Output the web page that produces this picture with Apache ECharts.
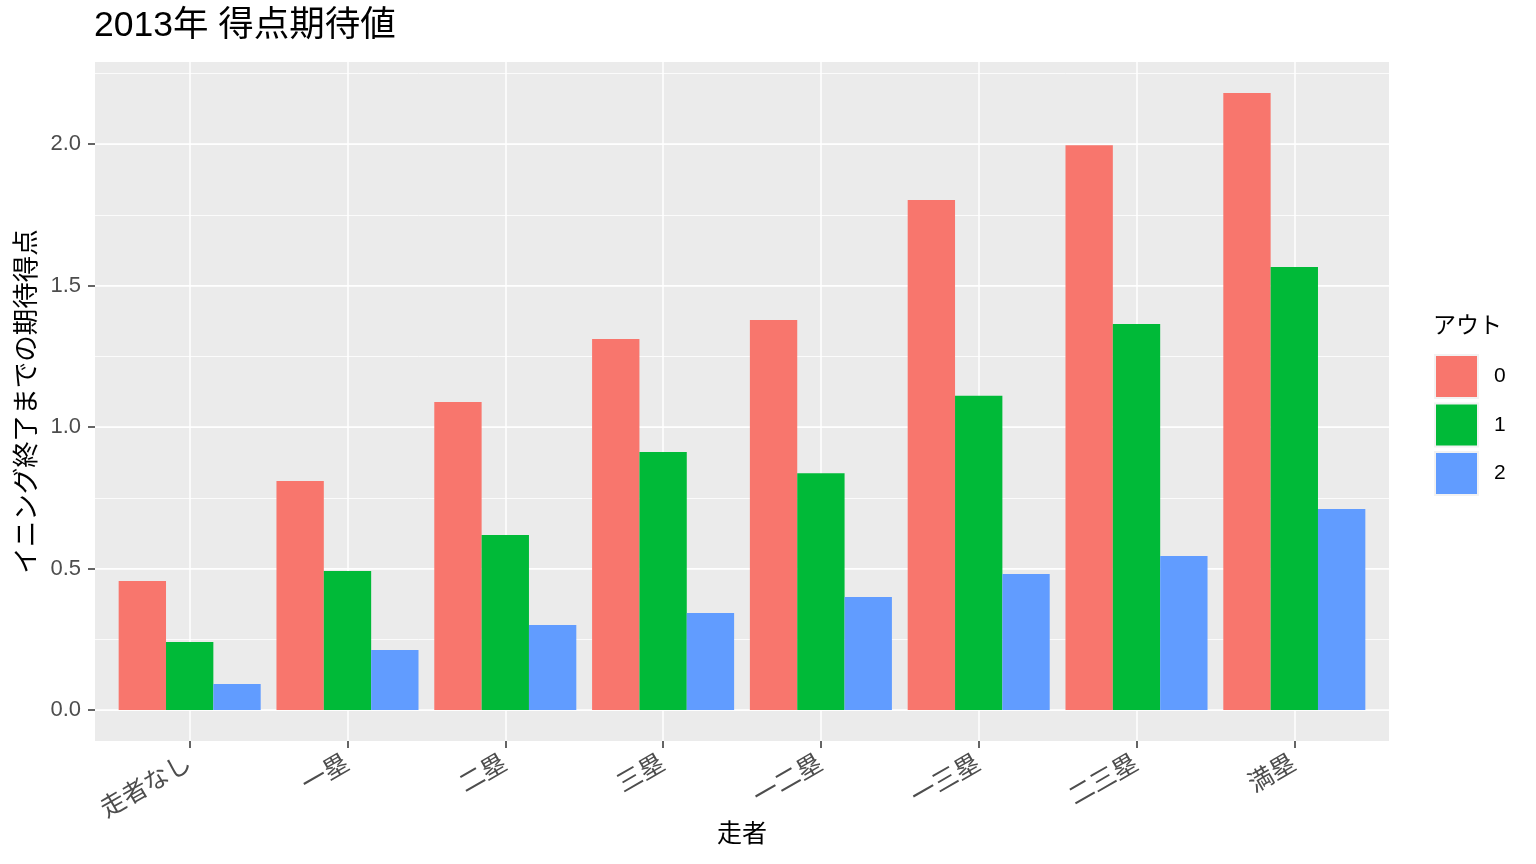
<!DOCTYPE html>
<html><head><meta charset="utf-8">
<script src="https://cdn.jsdelivr.net/npm/echarts@6/dist/echarts.min.js"></script>
<style>html,body{margin:0;padding:0;background:#fff}#c{width:1536px;height:864px}</style>
</head><body><div id="c"></div>
<script>
// ---- data ----
const categories = ['走者なし', '一塁', '二塁', '三塁', '一二塁', '一三塁', '二三塁', '満塁'];
const outNames = ['0', '1', '2'];
const outs0 = [0.456, 0.809, 1.088, 1.311, 1.378, 1.802, 1.996, 2.180];
const outs1 = [0.240, 0.491, 0.618, 0.912, 0.837, 1.110, 1.364, 1.565];
const outs2 = [0.092, 0.212, 0.300, 0.343, 0.399, 0.481, 0.544, 0.710];
const yTickStep = 0.5;
const yMinorStep = 0.25;
const yTickMax = 2.0;
const yMinorMax = 2.25;

// ---- layout ----
const FONT = '"Liberation Sans", "Noto Sans CJK JP", sans-serif';
const PL = 95, PT = 62, PW = 1294, PH = 679;
const Y0 = 710, PXU = 283;          // zero line and px per unit
const UX = PW / 8.2;                // px per category unit (ggplot expansion 0.6)
const colors = ['#F8766D', '#00BA38', '#619CFF'];

const chart = echarts.init(document.getElementById('c'), null, {renderer: 'canvas'});
const seriesData = [outs0, outs1, outs2];

chart.setOption({
  animation: false,
  textStyle: {fontFamily: FONT},
  title: [
    {text: '2013年 得点期待値', left: 94, top: 8, padding: 0,
     textStyle: {fontSize: 35.5, fontWeight: 'normal', color: '#000', fontFamily: FONT}},
    {text: 'アウト', left: 1433, top: 315, padding: 0,
     textStyle: {fontSize: 23, fontWeight: 'normal', color: '#000', fontFamily: FONT}}
  ],
  legend: {
    data: outNames, orient: 'vertical', left: 1434, top: 354, padding: 0,
    itemWidth: 43, itemHeight: 43, itemGap: 3.5, icon: 'rect',
    itemStyle: {borderColor: '#F2F2F2', borderWidth: 2},
    textStyle: {fontSize: 21, color: '#000', fontFamily: FONT, padding: [2, 0, 0, 11]},
    selectedMode: false
  },
  grid: [
    {left: PL, top: PT, width: PW, height: PH, show: true, backgroundColor: '#EBEBEB', borderWidth: 0},
    {left: PL, top: Y0 - yMinorMax * PXU, width: PW, height: yMinorMax * PXU},
    {left: PL, top: Y0 - yTickMax * PXU, width: PW, height: yTickMax * PXU},
    {left: PL + 0.1 * UX, top: PT, width: 8 * UX, height: PH}
  ],
  xAxis: [
    {gridIndex: 0, type: 'value', show: false, min: 0, max: 1},
    {gridIndex: 1, type: 'value', show: false, min: 0, max: 1},
    {gridIndex: 2, type: 'value', show: false, min: 0, max: 1},
    {gridIndex: 3, type: 'category', data: categories, position: 'bottom',
     axisLine: {show: false, onZero: false},
     axisTick: {show: true, alignWithLabel: true, length: 7, lineStyle: {color: '#333333', width: 1.5}},
     splitLine: {show: true, alignWithLabel: true, lineStyle: {color: '#FFFFFF', width: 1.5}},
     axisLabel: {rotate: 30, interval: 0, fontSize: 25, color: '#4D4D4D', margin: 21, fontFamily: FONT},
     name: '走者', nameLocation: 'middle', nameGap: 82, nameMoveOverlap: false,
     nameTextStyle: {fontSize: 25, color: '#000', fontFamily: FONT}}
  ],
  yAxis: [
    {gridIndex: 0, type: 'value', show: false, min: 0, max: 1},
    {gridIndex: 1, type: 'value', min: 0, max: yMinorMax, interval: yMinorStep,
     axisLine: {show: false}, axisTick: {show: false}, axisLabel: {show: false},
     splitLine: {show: true, lineStyle: {color: '#FFFFFF', width: 0.8}}},
    {gridIndex: 2, type: 'value', min: 0, max: yTickMax, interval: yTickStep,
     axisLine: {show: false},
     axisTick: {show: true, length: 7, lineStyle: {color: '#333333', width: 1.5}},
     axisLabel: {fontSize: 22, color: '#4D4D4D', margin: 14, fontFamily: FONT,
                 formatter: v => v.toFixed(1)},
     splitLine: {show: true, lineStyle: {color: '#FFFFFF', width: 1.5}}},
    {gridIndex: 3, type: 'value', min: -(PT + PH - Y0) / PXU, max: (Y0 - PT) / PXU,
     axisLine: {show: false}, axisTick: {show: false}, axisLabel: {show: false},
     splitLine: {show: false},
     name: 'イニング終了までの期待得点', nameLocation: 'middle', nameGap: 70, nameMoveOverlap: false,
     nameTextStyle: {fontSize: 26.5, color: '#000', fontFamily: FONT}}
  ],
  series: outNames.map((n, i) => ({
    name: n, type: 'bar', xAxisIndex: 3, yAxisIndex: 3,
    data: seriesData[i], barGap: '0%', barCategoryGap: '10%',
    itemStyle: {color: colors[i]}, emphasis: {disabled: true}
  }))
});
</script></body></html>
